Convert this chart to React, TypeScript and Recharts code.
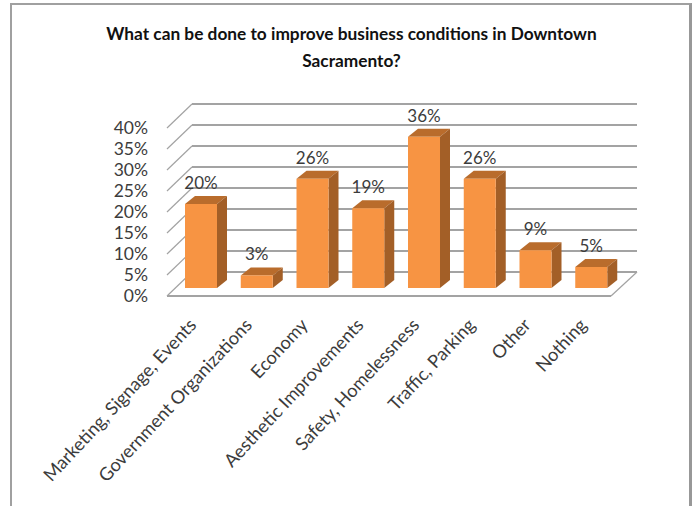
import { Bar, BarChart, CartesianGrid, LabelList, XAxis, YAxis } from 'recharts';

const categories = [
  'Marketing, Signage, Events',
  'Government Organizations',
  'Economy',
  'Aesthetic Improvements',
  'Safety, Homelessness',
  'Traffic, Parking',
  'Other',
  'Nothing',
];
const shares = [20, 3, 26, 19, 36, 26, 9, 5];
const yTicks = [0, 5, 10, 15, 20, 25, 30, 35, 40];

const rows = categories.map((name, i) => ({ name, share: shares[i] }));

const FONT = 'Lato, sans-serif';
const GRID = '#a3a3a3';
const TEXT = '#3c3c3c';

// fake 3D: the cuboid depth plus the wall and floor offsets around the bar plane
const DEPTH_X = 10;
const DEPTH_Y = 8;

function Cuboid({ x, y, width, height }: any) {
  const r = x + width;
  const b = y + height;
  return (
    <g>
      <polygon
        points={`${x},${y} ${x + DEPTH_X},${y - DEPTH_Y} ${r + DEPTH_X},${y - DEPTH_Y} ${r},${y}`}
        fill="#b96c2c"
      />
      <polygon
        points={`${r},${y} ${r + DEPTH_X},${y - DEPTH_Y} ${r + DEPTH_X},${b - DEPTH_Y} ${r},${b}`}
        fill="#a35f27"
      />
      <rect x={x} y={y} width={width} height={height} fill="#f79443" />
    </g>
  );
}

function WallLine({ x1, x2, y1, index }: any) {
  const back = y1 - 16;
  const front = y1 + 8;
  return (
    <g stroke={GRID} fill="none">
      <line x1={x1 + 19} x2={x2 + 18} y1={back} y2={back} strokeWidth={2} />
      <line x1={x1 - 6} x2={x1 + 19} y1={front} y2={back} strokeWidth={1.2} />
      {index === 0 && (
        <>
          <line x1={x1 - 6} x2={x2 - 8} y1={front} y2={front} strokeWidth={2} />
          <line x1={x2 - 8} x2={x2 + 18} y1={front} y2={back} strokeWidth={1.2} />
        </>
      )}
    </g>
  );
}

function PercentTick({ x, y, payload }: any) {
  return (
    <text x={x - 17} y={y + 8} dy={6} textAnchor="end" fontFamily={FONT} fontSize={17.5} fill={TEXT}>
      {payload.value}%
    </text>
  );
}

function CategoryTick({ x, y, payload }: any) {
  return (
    <text
      transform={`translate(${x - 3.5},${y + 30}) rotate(-47)`}
      textAnchor="end"
      fontFamily={FONT}
      fontSize={18.2}
      fill={TEXT}
    >
      {payload.value}
    </text>
  );
}

export default function App() {
  return (
    <div style={{ position: 'fixed', left: 0, top: 0, width: 693, height: 506, background: '#fff' }}>
      <div
        style={{
          position: 'absolute',
          left: 10,
          top: 3,
          width: 682,
          height: 503,
          boxSizing: 'border-box',
          borderLeft: '2px solid #a0a0a0',
          borderTop: '2px solid #a0a0a0',
          borderRight: '3px solid #989898',
        }}
      />
      <div
        style={{
          position: 'absolute',
          left: 0,
          width: 703,
          top: 20,
          textAlign: 'center',
          fontFamily: FONT,
          fontWeight: 700,
          fontSize: 17.3,
          lineHeight: '27px',
          color: '#111',
        }}
      >
        What can be done to improve business conditions in Downtown
        <br />
        Sacramento?
      </div>
      <BarChart
        width={693}
        height={506}
        data={rows}
        margin={{ top: 120, right: 74, bottom: 0, left: 100 }}
        style={{ position: 'absolute', left: 0, top: 0 }}
      >
        <CartesianGrid vertical={false} horizontal={(p: any) => <WallLine key={p.index} {...p} />} />
        <XAxis
          dataKey="name"
          interval={0}
          height={218}
          axisLine={false}
          tickLine={false}
          tick={<CategoryTick />}
        />
        <YAxis
          width={73}
          domain={[0, 40]}
          ticks={yTicks}
          interval={0}
          axisLine={false}
          tickLine={false}
          tick={<PercentTick />}
        />
        <Bar dataKey="share" barSize={32} shape={<Cuboid />} isAnimationActive={false}>
          <LabelList
            dataKey="share"
            position="top"
            offset={15}
            formatter={(v: any) => `${v}%`}
            style={{ fontFamily: FONT, fontSize: 17, fill: TEXT }}
          />
        </Bar>
      </BarChart>
    </div>
  );
}
